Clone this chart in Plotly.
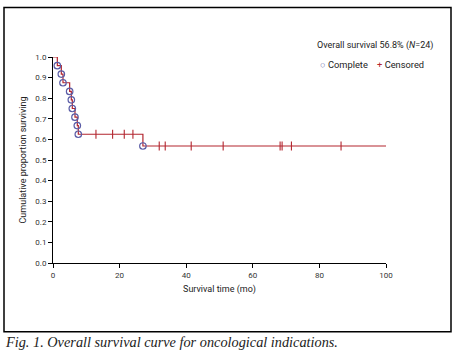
import plotly.graph_objects as go

# ---- data ----
event_times = [1.3, 2.5, 3.0, 5.0, 5.5, 5.8, 6.6, 7.3, 7.6, 27.0]
event_surv = [0.958, 0.917, 0.875, 0.833, 0.792, 0.750, 0.708, 0.667, 0.625, 0.568]
censor_times = [12.9, 17.9, 21.4, 24.0, 31.9, 33.7, 41.5, 51.1, 68.2, 68.8, 71.6, 86.5]
censor_surv = [0.625, 0.625, 0.625, 0.625, 0.568, 0.568, 0.568, 0.568, 0.568, 0.568, 0.568, 0.568]
follow_up_end = 100
x_ticks = [0, 20, 40, 60, 80, 100]
y_ticks = [0.0, 0.1, 0.2, 0.3, 0.4, 0.5, 0.6, 0.7, 0.8, 0.9, 1.0]

LINE = "#b3262f"
CIRC = "#5a5ca6"
FONT = "Roboto"

# plot-area geometry in pixels
L, R, T, B = 53, 386, 56.5, 263
W, H = R - L, B - T


def px(x):
    return (x - L) / W


def py(y):
    return (B - y) / H


step_x = [0] + event_times + [follow_up_end]
step_y = [1.0] + event_surv + [event_surv[-1]]

fig = go.Figure()
fig.add_trace(go.Scatter(x=step_x, y=step_y, mode="lines", line=dict(color=LINE, width=1.2, shape="hv"),
                         showlegend=False, cliponaxis=False, hoverinfo="skip"))
fig.add_trace(go.Scatter(x=censor_times, y=censor_surv, mode="markers",
                         marker=dict(symbol="line-ns", size=6.5, line=dict(color=LINE, width=1.1)),
                         showlegend=False, cliponaxis=False))
fig.add_trace(go.Scatter(x=event_times, y=event_surv, mode="markers",
                         marker=dict(symbol="circle-open", size=6.5, color=CIRC, line=dict(width=1.2)),
                         showlegend=False, cliponaxis=False))

axis_common = dict(showline=True, linecolor="black", linewidth=1, ticks="outside", ticklen=4,
                   tickcolor="black", tickwidth=1, showgrid=False, zeroline=False, automargin=False,
                   tickfont=dict(family=FONT, size=8, color="#333"))
fig.update_xaxes(range=[0, 100], tickvals=x_ticks, title=dict(text="Survival time (mo)",
                 font=dict(family=FONT, size=9, color="#222"), standoff=7), **axis_common)
fig.update_yaxes(range=[0, 1], tickvals=y_ticks, tickformat=".1f",
                 title=dict(text="Cumulative proportion surviving", font=dict(family=FONT, size=9, color="#222"),
                            standoff=7), **axis_common)

fig.update_layout(width=456, height=363, margin=dict(l=L, r=456 - R, t=T, b=363 - B),
                  paper_bgcolor="white", plot_bgcolor="white", showlegend=False)

# outer frame
fig.add_shape(type="rect", xref="paper", yref="paper", x0=px(4), x1=px(451), y0=py(332), y1=py(7),
              line=dict(color="black", width=1.5), fillcolor="rgba(0,0,0,0)")

fig.add_annotation(xref="paper", yref="paper", x=px(315), y=py(45),
                   xanchor="left", yanchor="middle", showarrow=False,
                   text="Overall survival 56.8% (<i>N</i>=24)", font=dict(family=FONT, size=9, color="#222"))
fig.add_annotation(xref="paper", yref="paper", x=px(318), y=py(64),
                   xanchor="left", yanchor="middle", showarrow=False,
                   text=f"<span style='color:{CIRC}'>○</span> Complete    <span style='color:{LINE}'>+</span> Censored",
                   font=dict(family=FONT, size=9.3, color="#222"))
fig.add_annotation(xref="paper", yref="paper", x=px(3), y=py(342),
                   xanchor="left", yanchor="middle", showarrow=False,
                   text="<i>Fig. 1. Overall survival curve for oncological indications.</i>",
                   font=dict(family="Liberation Serif", size=14.3, color="#222"))

fig.write_html("out.html", config={"displayModeBar": False},
               post_script="document.body.style.margin='0';")
